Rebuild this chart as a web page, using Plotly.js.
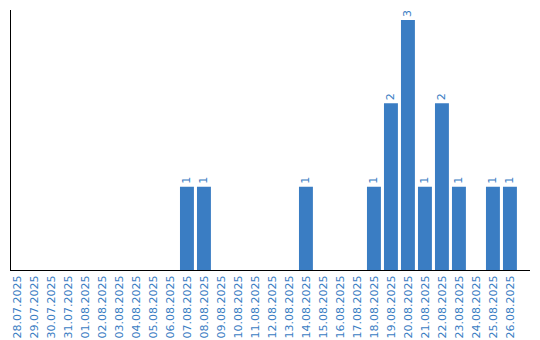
<!DOCTYPE html>
<html><head><meta charset="utf-8">
<script src="https://cdn.plot.ly/plotly-3.0.1.min.js"></script>
<style>html,body{margin:0;padding:0;background:#fff}#c{width:540px;height:340px}</style>
</head><body><div id="c"></div>
<script>
const dates = ["28.07.2025","29.07.2025","30.07.2025","31.07.2025","01.08.2025","02.08.2025","03.08.2025","04.08.2025","05.08.2025","06.08.2025","07.08.2025","08.08.2025","09.08.2025","10.08.2025","11.08.2025","12.08.2025","13.08.2025","14.08.2025","15.08.2025","16.08.2025","17.08.2025","18.08.2025","19.08.2025","20.08.2025","21.08.2025","22.08.2025","23.08.2025","24.08.2025","25.08.2025","26.08.2025"];
const counts = [0,0,0,0,0,0,0,0,0,0,1,1,0,0,0,0,0,1,0,0,0,1,2,3,1,2,1,0,1,1];
const labels = counts.map(v => v > 0 ? String(v) : "");
const blue = "#3a7dc3";
Plotly.newPlot("c", [{
  type: "bar", x: dates, y: counts,
  marker: {color: blue},
  text: labels, textposition: "outside", textangle: -90,
  textfont: {color: blue, size: 11, family: "DejaVu Sans"},
  cliponaxis: false, hoverinfo: "none"
}], {
  width: 540, height: 340,
  margin: {l: 11, r: 10, t: 10, b: 70},
  paper_bgcolor: "#fff", plot_bgcolor: "#fff",
  bargap: 0.18, showlegend: false,
  xaxis: {type: "category", range: [-0.35, 30.18], showline: true, linecolor: "#000", linewidth: 1,
    ticks: "", tickangle: -90, tickfont: {color: blue, size: 11, family: "DejaVu Sans"}, automargin: false, fixedrange: true},
  yaxis: {range: [0, 3.12], showline: true, linecolor: "#000", linewidth: 1, showgrid: false, zeroline: false,
    showticklabels: false, ticks: "", automargin: false, fixedrange: true}
}, {staticPlot: true});
</script></body></html>
